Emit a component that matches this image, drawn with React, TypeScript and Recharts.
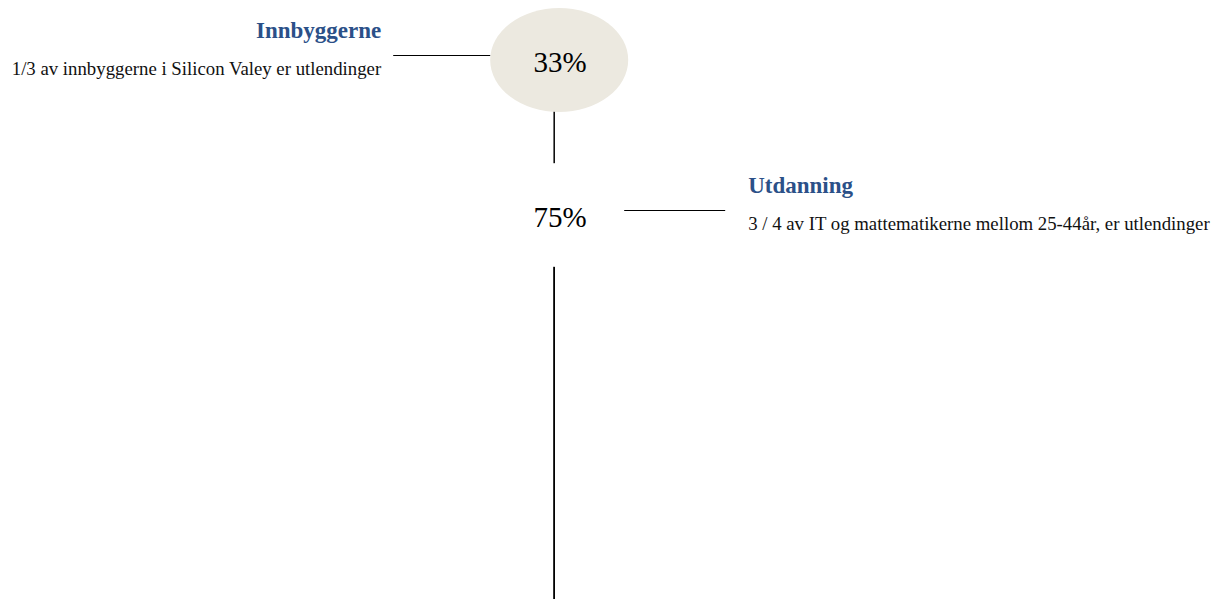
import { ScatterChart, Scatter, XAxis, YAxis } from 'recharts'

const titles = ['Innbyggerne', 'Utdanning']
const shares = [33, 75]
const descriptions = [
  '1/3 av innbyggerne i Silicon Valey er utlendinger',
  '3 / 4 av IT og mattematikerne mellom 25-44år, er utlendinger',
]
const sides = ['left', 'right']

const nodeFills = ['#ECE9E0', '#FFFFFF']
const serif = 'Liberation Serif, Times New Roman, serif'

const data = titles.map((title, i) => ({
  x: 0,
  step: i,
  title,
  share: shares[i],
  description: descriptions[i],
  side: sides[i],
}))

function Milestone(props: any) {
  const { cx, cy, payload, index } = props
  const ex = cx + 5
  const left = payload.side === 'left'
  const lineY = Math.round(cy - 5) + 0.5
  const x1 = left ? ex - 69 : ex + 65
  const x2 = left ? x1 - 97 : x1 + 101
  const textX = left ? x2 - 12 : x2 + 23

  return (
    <g>
      <line x1={cx} y1={cy} x2={cx} y2={599} stroke="#000" strokeWidth={1.5} />
      <ellipse cx={ex} cy={cy} rx={69} ry={52} fill={nodeFills[index] ?? '#fff'} />
      <text
        x={ex + 1}
        y={cy + 12}
        textAnchor="middle"
        style={{ fontFamily: serif, fontSize: 29 }}
        fill="#000"
      >
        {`${payload.share}%`}
      </text>
      <line x1={x1} y1={lineY} x2={x2} y2={lineY} stroke="#000" strokeWidth={1} />
      <text
        x={textX}
        y={cy - 22}
        textAnchor={left ? 'end' : 'start'}
        style={{ fontFamily: serif, fontSize: 23, fontWeight: 'bold' }}
        fill="#2B5088"
      >
        {payload.title}
      </text>
      <text
        x={textX}
        y={cy + 15}
        textAnchor={left ? 'end' : 'start'}
        style={{ fontFamily: serif, fontSize: 18.8 }}
        fill="#111"
      >
        {payload.description}
      </text>
    </g>
  )
}

export default function App() {
  return (
    <div style={{ position: 'absolute', left: 0, top: 0, background: '#fff' }}>
      <ScatterChart
        width={1214}
        height={599}
        margin={{ top: 0, right: 0, bottom: 0, left: 0 }}
      >
        <XAxis type="number" dataKey="x" domain={[-0.913, 1.087]} hide />
        <YAxis type="number" dataKey="step" domain={[-0.387, 3.477]} reversed hide />
        <Scatter data={data} shape={<Milestone />} isAnimationActive={false} />
      </ScatterChart>
    </div>
  )
}
